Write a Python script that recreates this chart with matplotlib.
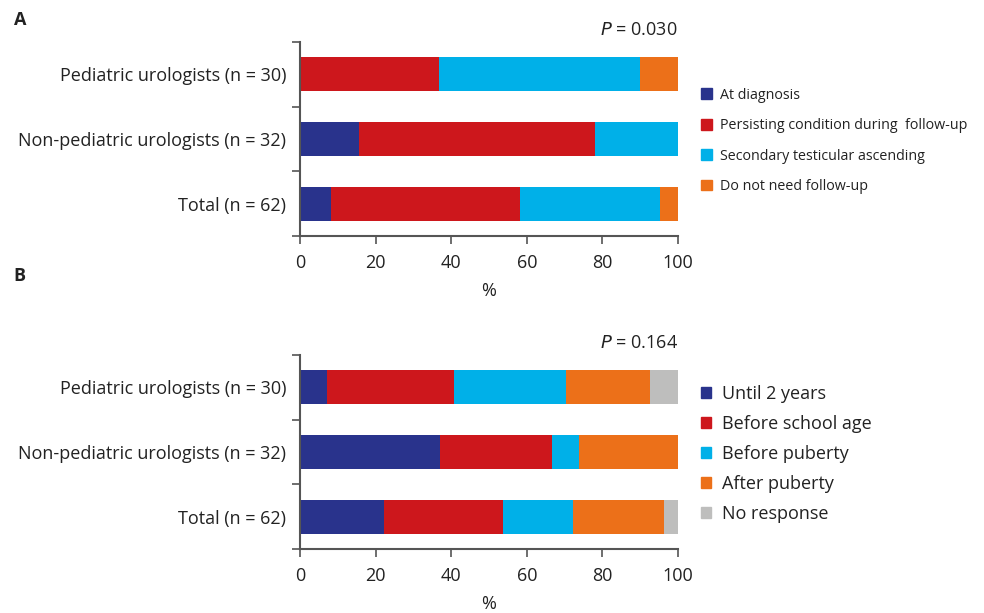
import numpy as np
import matplotlib.pyplot as plt
from matplotlib.patches import Patch

plt.rcParams['font.family'] = ['Open Sans', 'DejaVu Sans']

# data
groups = ["Pediatric urologists (n = 30)", "Non-pediatric urologists (n = 32)", "Total (n = 62)"]

a_labels = ["At diagnosis", "Persisting condition during  follow-up",
            "Secondary testicular ascending", "Do not need follow-up"]
a_values = [
    [0.0, 15.6, 8.1],     # at diagnosis
    [36.7, 62.5, 50.0],   # persisting condition
    [53.3, 21.9, 37.1],   # secondary ascending
    [10.0, 0.0, 4.8],     # no follow-up
]
a_p = "0.030"

b_labels = ["Until 2 years", "Before school age", "Before puberty", "After puberty", "No response"]
b_values = [
    [7.1, 37.0, 22.2],
    [33.6, 29.6, 31.5],
    [29.6, 7.3, 18.5],
    [22.2, 26.1, 24.0],
    [7.5, 0.0, 3.8],
]
b_p = "0.164"

colors = ["#29338C", "#CD171C", "#00B0E8", "#EC7019", "#BEBEBD"]
txt = "#222222"
spine = "#555555"


def draw_panel(ax, values, labels, pval):
    y = np.arange(len(groups))
    left = np.zeros(len(groups))
    for i, vals in enumerate(values):
        ax.barh(y, vals, left=left, height=0.53, color=colors[i], label=labels[i])
        left += np.array(vals)
    ax.set_xlim(0, 100)
    ax.set_ylim(2.5, -0.5)
    ax.set_yticks(y)
    ax.set_yticklabels(groups, fontsize=13, color=txt)
    ax.tick_params(axis='y', which='major', length=0, pad=10)
    ax.set_yticks([-0.5, 0.5, 1.5, 2.5], minor=True)
    ax.tick_params(axis='y', which='minor', length=6, width=1.2, color=spine)
    ax.set_xticks([0, 20, 40, 60, 80, 100])
    ax.tick_params(axis='x', length=6, width=1.2, color=spine, labelsize=13,
                   labelcolor=txt, pad=7)
    ax.set_xlabel("%", fontsize=13, color=txt, labelpad=7)
    for s in ['top', 'right']:
        ax.spines[s].set_visible(False)
    for s in ['left', 'bottom']:
        ax.spines[s].set_color(spine)
        ax.spines[s].set_linewidth(1.5)
    ax.text(100, -0.55, "$\\it{P}$ = " + pval, ha='right', va='bottom',
            fontsize=13, color=txt)


fig = plt.figure(figsize=(9.84, 6.13), dpi=100)
ax1 = fig.add_axes([0.3049, 0.615, 0.3841, 0.3165])
ax2 = fig.add_axes([0.3049, 0.1044, 0.3841, 0.3165])

draw_panel(ax1, a_values, a_labels, a_p)
draw_panel(ax2, b_values, b_labels, b_p)

h1 = [Patch(color=colors[i], label=a_labels[i]) for i in range(len(a_labels))]
fig.legend(handles=h1, loc='upper left', bbox_to_anchor=(0.712, 0.857), frameon=False,
           fontsize=10.3, handlelength=0.78, handleheight=0.78, handletextpad=0.6,
           labelspacing=1.08, labelcolor=txt, borderaxespad=0, borderpad=0)

h2 = [Patch(color=colors[i], label=b_labels[i]) for i in range(len(b_labels))]
fig.legend(handles=h2, loc='upper left', bbox_to_anchor=(0.712, 0.372), frameon=False,
           fontsize=13, handlelength=0.6, handleheight=0.6, handletextpad=0.6,
           labelspacing=0.66, labelcolor=txt, borderaxespad=0, borderpad=0)

fig.text(0.014, 0.968, "A", fontsize=13, fontweight='bold', color=txt, va='center')
fig.text(0.014, 0.549, "B", fontsize=13, fontweight='bold', color=txt, va='center')

fig.savefig("out.png", dpi=100)
